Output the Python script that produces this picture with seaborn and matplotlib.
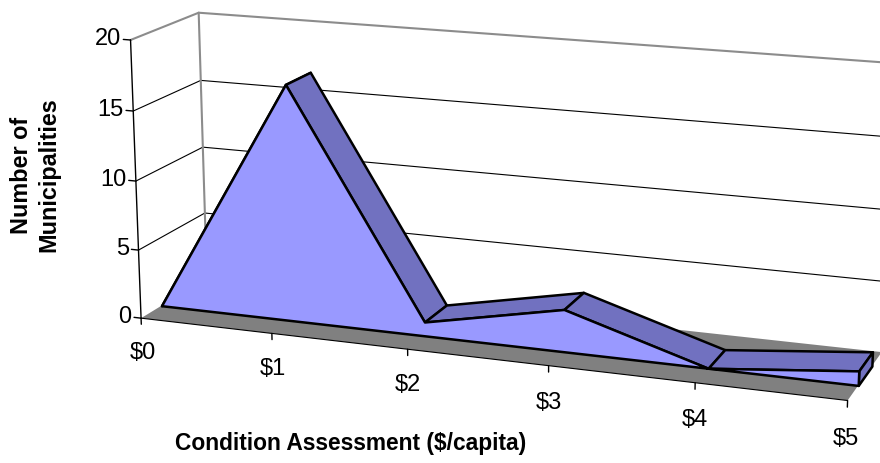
import matplotlib
matplotlib.use("Agg")
import matplotlib.pyplot as plt
import seaborn as sns
from mpl_toolkits.mplot3d.art3d import Poly3DCollection
from mpl_toolkits.mplot3d import proj3d

# ---- data ----
categories = ["$0", "$1", "$2", "$3", "$4", "$5"]
counts = [0, 17, 1, 3, 0, 1]
z_ticks = [0, 5, 10, 15, 20]
z_tick_labels = ["0", "5", "10", "15", "20"]
x_title = "Condition Assessment ($/capita)"
y_title = "Number of\nMunicipalities"

FRONT = "#9999FF"
TOP = "#7171C0"
FLOOR = "#808080"
WALL_EDGE = "#8C8C8C"

sns.set_theme(style="white")
plt.rcParams["font.family"] = ["Liberation Sans", "DejaVu Sans"]
plt.rcParams["text.color"] = "black"

fig = plt.figure(figsize=(8.8, 4.63), dpi=100)
ax = fig.add_axes([0.0591, -0.3974, 1.0, 1.9006], projection="3d",
                  computed_zorder=False)
n = len(categories)
xs = list(range(n))
xmax = n - 1
zmax = z_ticks[-1]
d_front, d_back = 0.3, 0.7

ax.set_xlim(0, xmax)
ax.set_ylim(0, 1)
ax.set_zlim(0, zmax)
ax.set_box_aspect((730, 150, 288), zoom=0.898)
ax.view_init(elev=15, azim=-70)
ax.set_proj_type("persp", focal_length=0.547)
ax.set_xticks([])
ax.set_yticks([])
ax.set_zticks([])
ax.set_axis_off()
M = ax.get_proj()


def poly(verts, fc, ec="none", lw=0.0, z=1):
    pc = Poly3DCollection([verts], facecolors=fc, edgecolors=ec,
                          linewidths=lw, zorder=z)
    ax.add_collection3d(pc)


def label3d(x, y, z, s, **kw):
    # project the 3D anchor through the axes' own projection, draw as 2D text
    xp, yp, _ = proj3d.proj_transform(x, y, z, M)
    ax.text2D(xp, yp, s, transform=ax.transData, **kw)


# walls
poly([(0, 0, 0), (0, 1, 0), (0, 1, zmax), (0, 0, zmax)], "white", z=0)
poly([(0, 1, 0), (xmax, 1, 0), (xmax, 1, zmax), (0, 1, zmax)], "white", z=0)
for zt in z_ticks[1:-1]:
    ax.plot([0, 0, xmax], [0, 1, 1], [zt, zt, zt], color="black", lw=0.8, zorder=1)
ax.plot([0, 0, xmax, xmax], [0, 1, 1, 1], [zmax, zmax, zmax, 0],
        color=WALL_EDGE, lw=1.5, zorder=1)
ax.plot([0, 0], [1, 1], [0, zmax], color=WALL_EDGE, lw=1.5, zorder=1)

# floor
poly([(0, 0, 0), (xmax, 0, 0), (xmax, 1, 0), (0, 1, 0)], FLOOR, z=2)
ax.plot([0, xmax], [0, 0], [0, 0], color="black", lw=0.8, zorder=3)

# area: top strips, end face, front face
for i in range(n - 1):
    poly([(xs[i], d_front, counts[i]), (xs[i + 1], d_front, counts[i + 1]),
          (xs[i + 1], d_back, counts[i + 1]), (xs[i], d_back, counts[i])],
         TOP, "black", 1.8, z=4 + i * 0.01)
poly([(xmax, d_front, 0), (xmax, d_front, counts[-1]),
      (xmax, d_back, counts[-1]), (xmax, d_back, 0)], TOP, "black", 1.8, z=5)
front = [(x, d_front, c) for x, c in zip(xs, counts)] + \
        [(xmax, d_front, 0), (0, d_front, 0)]
poly(front, FRONT, "black", 1.8, z=6)

# axes lines, ticks, labels
ax.plot([0, 0], [0, 0], [0, zmax], color="black", lw=1, zorder=7)
for zt, lab in zip(z_ticks, z_tick_labels):
    ax.plot([-0.055, 0], [0, 0], [zt, zt], color="black", lw=1, zorder=7)
    label3d(-0.075, 0, zt, lab, ha="right", va="center", fontsize=17,
            color="black", zorder=8)
for x, lab in zip(xs, categories):
    ax.plot([x, x], [0, 0], [0, -0.45], color="black", lw=1, zorder=7)
    label3d(x, 0, -2.6, lab, ha="center", va="center", fontsize=17,
            color="black", zorder=8)

fig.text(0.398, 0.043, x_title, ha="center", va="center", fontsize=16.4,
         fontweight="bold", color="black")
fig.text(0.040, 0.622, y_title, ha="center", va="center", rotation=90,
         fontsize=16.8, fontweight="bold", linespacing=1.2, color="black")

fig.savefig("out.png", dpi=100, facecolor="white")
